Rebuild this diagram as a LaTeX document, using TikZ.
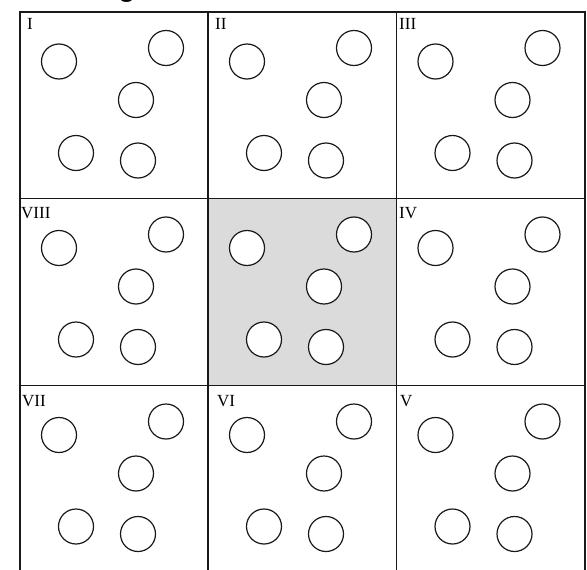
\documentclass[tikz,border=0pt]{standalone}
\usepackage{fontspec}
\setmainfont{Liberation Serif}
\newfontfamily\titlefont{Liberation Sans}
\begin{document}
\begin{tikzpicture}[x=1pt,y=-1pt,
  gridline/.style={line width=1.5pt, draw=black!90, line cap=rect},
  ball/.style={circle, draw=black!90, line width=1.2pt, minimum size=35pt, inner sep=0pt},
  lbl/.style={anchor=base west, inner sep=0pt, font=\fontsize{17}{17}\selectfont}]
\useasboundingbox (0,0) rectangle (587,570);
\fill[white] (0,0) rectangle (587,570);
\clip (0,0) rectangle (587,570);
% cropped title fragment
\node[anchor=base, inner sep=0pt, font=\titlefont\bfseries\fontsize{28}{28}\selectfont] (title) at (127,-4) {g};
% shaded centre cell
\fill[black!14] (208,198.5) rectangle (396.5,385.5);
% grid
\draw[gridline] (20,580) -- (20,12) -- (585,12) -- (585,580);
\draw[gridline] (208,12) -- (208,580);
\draw[gridline] (396.5,12) -- (396.5,580);
\draw[gridline] (20,198.5) -- (585,198.5);
\draw[gridline] (20,385.5) -- (585,385.5);
% circles
\foreach \nm/\cx/\cy/\fc in {I/20/12/none, II/208/12/none, III/396.5/12/none,
    VIII/20/198.5/none, C/208/198.5/white, IV/396.5/198.5/none,
    VII/20/385.5/none, VI/208/385.5/none, V/396.5/385.5/none}{
  \foreach \i/\dx/\dy in {1/39/49.5, 2/146/36, 3/116/88, 4/56/141, 5/118/148.5}{
    \node[ball, fill=\fc] (\nm-\i) at ({\cx+\dx},{\cy+\dy}) {};
  }
}
% labels
\node[lbl] (lab-I) at (27,29.6) {I};
\node[lbl] (lab-II) at (215,29.6) {II};
\node[lbl] (lab-III) at (399,29.6) {III};
\node[lbl] (lab-VIII) at (21,218) {VIII};
\node[lbl] (lab-IV) at (399,218) {IV};
\node[lbl] (lab-VII) at (22,406.3) {VII};
\node[lbl] (lab-VI) at (217,406.3) {VI};
\node[lbl] (lab-V) at (400,406.3) {V};
\end{tikzpicture}
\end{document}
